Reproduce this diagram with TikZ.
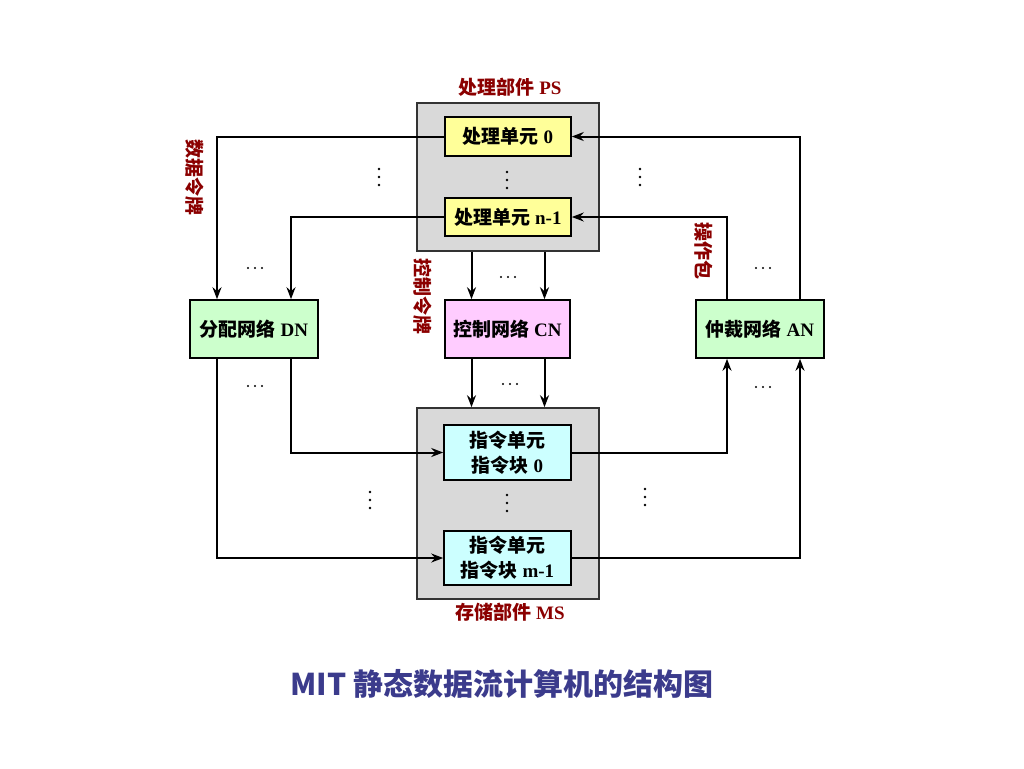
\documentclass[tikz,border=0pt]{standalone}
\usepackage{fontspec}
\setmainfont{Liberation Serif}
\newfontfamily\cjk{Noto Sans CJK SC}
\usetikzlibrary{arrows.meta,calc}
\definecolor{psgray}{HTML}{D9D9D9}
\definecolor{peyel}{HTML}{FFFF99}
\definecolor{netgreen}{HTML}{CCFFCC}
\definecolor{netpink}{HTML}{FFCCFF}
\definecolor{iccyan}{HTML}{CCFFFF}
\definecolor{lblred}{HTML}{8B0000}
\definecolor{capblue}{HTML}{3B3B8C}
\tikzset{
  unitbox/.style={draw=black, line width=1.6pt, inner sep=0pt, align=center,
    font=\fontsize{19}{25}\selectfont\bfseries},
  groupbox/.style={draw=black!80, line width=1.6pt, fill=psgray},
  arr/.style={line width=2pt, -{Stealth[length=12pt,width=9pt,inset=4pt]}},
  lbl/.style={text=lblred, font=\fontsize{19}{22}\selectfont\bfseries},
  vlbl/.style={lbl, rotate=-90},
}
\newcommand{\vdts}{\tikz[baseline]{\fill (0,0) circle (1.4pt) (0,-8pt) circle (1.4pt) (0,-16pt) circle (1.4pt);}}
\newcommand{\hdts}{\tikz[baseline]{\fill (0,0) circle (1.2pt) (7pt,0) circle (1.2pt) (14pt,0) circle (1.2pt);}}
\begin{document}
\begin{tikzpicture}[x=1pt,y=-1pt]
\useasboundingbox[fill=white] (0,0) rectangle (1024,768);
% groups
\node[groupbox, minimum width=182pt, minimum height=148pt] (ps) at (508,177) {};
\node[groupbox, minimum width=182pt, minimum height=191pt] (ms) at (508,503.5) {};
\node[lbl] (pstitle) at (510,87) {{\cjk 处理部件} PS};
\node[lbl] (mstitle) at (510,612) {{\cjk 存储部件} MS};
% units
\node[unitbox, fill=peyel, minimum width=126pt, minimum height=39pt] (pe0) at (508,136.5) {{\cjk 处理单元} 0};
\node[unitbox, fill=peyel, minimum width=126pt, minimum height=38pt] (pen) at (508,217) {{\cjk 处理单元} n-1};
\node[unitbox, fill=netgreen, minimum width=128pt, minimum height=58pt] (dn) at (254,329) {{\cjk 分配网络} DN};
\node[unitbox, fill=netpink, minimum width=125pt, minimum height=58pt] (cn) at (507.5,329) {{\cjk 控制网络} CN};
\node[unitbox, fill=netgreen, minimum width=128pt, minimum height=58pt] (an) at (760,329) {{\cjk 仲裁网络} AN};
\node[unitbox, fill=iccyan, minimum width=127pt, minimum height=55pt] (ic0) at (507.5,452.5) {{\cjk 指令单元}\\{\cjk 指令块} 0};
\node[unitbox, fill=iccyan, minimum width=127pt, minimum height=54pt] (icm) at (507.5,558) {{\cjk 指令单元}\\{\cjk 指令块} m-1};
% connectors PS -> DN
\draw[arr] (pe0.west) -| ([xshift=-37pt]dn.north);
\draw[arr] (pen.west) -| ([xshift=37pt]dn.north);
% PS -> CN
\draw[arr] ([xshift=-36pt]cn.north |- ps.south) -- ([xshift=-36pt]cn.north);
\draw[arr] ([xshift=37pt]cn.north |- ps.south) -- ([xshift=37pt]cn.north);
% CN -> MS
\draw[arr] ([xshift=-36pt]cn.south) -- ([xshift=-36pt]cn.south |- ms.north);
\draw[arr] ([xshift=37pt]cn.south) -- ([xshift=37pt]cn.south |- ms.north);
% DN -> MS
\draw[arr] ([xshift=-37pt]dn.south) |- (icm.west);
\draw[arr] ([xshift=37pt]dn.south) |- (ic0.west);
% MS -> AN
\draw[arr] (ic0.east) -| ([xshift=-33pt]an.south);
\draw[arr] (icm.east) -| ([xshift=40pt]an.south);
% AN -> PS
\draw[arr] ([xshift=-33pt]an.north) |- (pen.east);
\draw[arr] ([xshift=40pt]an.north) |- (pe0.east);
% labels
\node[vlbl] (l1) at (195,177) {\cjk 数据令牌};
\node[vlbl] (l2) at (423,296) {\cjk 控制令牌};
\node[vlbl] (l3) at (704,251) {\cjk 操作包};
% dots
\node[inner sep=0pt] (v1) at (379,177) {\vdts};
\node[inner sep=0pt] (v2) at (507,180) {\vdts};
\node[inner sep=0pt] (v3) at (640,177) {\vdts};
\node[inner sep=0pt] (v4) at (370,500) {\vdts};
\node[inner sep=0pt] (v5) at (507,503) {\vdts};
\node[inner sep=0pt] (v6) at (645,497) {\vdts};
\node[inner sep=0pt] (h1) at (255,268) {\hdts};
\node[inner sep=0pt] (h2) at (508,277) {\hdts};
\node[inner sep=0pt] (h3) at (763,268) {\hdts};
\node[inner sep=0pt] (h4) at (255,386) {\hdts};
\node[inner sep=0pt] (h5) at (510,384) {\hdts};
\node[inner sep=0pt] (h6) at (763,387) {\hdts};
% caption
\node[text=capblue, font=\fontsize{30}{34}\selectfont\bfseries] (cap) at (502,684) {\cjk MIT 静态数据流计算机的结构图};
\end{tikzpicture}
\end{document}
